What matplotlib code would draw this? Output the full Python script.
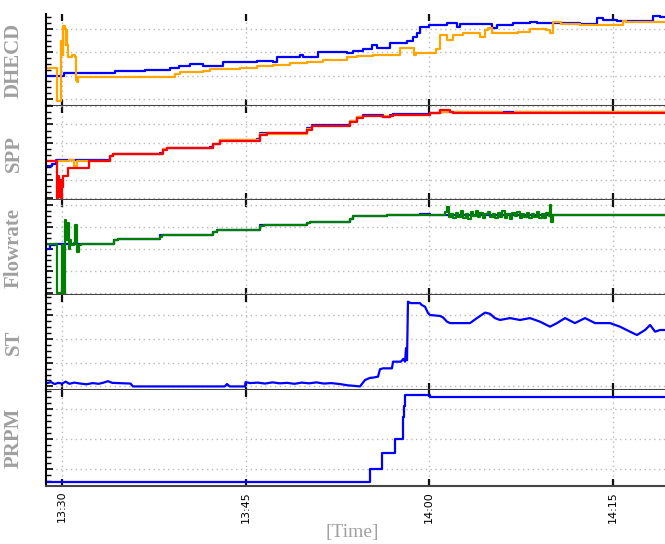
import matplotlib
matplotlib.use('Agg')
import matplotlib.pyplot as plt
import matplotlib.dates as mdates
from matplotlib.ticker import MultipleLocator
import pandas as pd

# time axis: minutes after 13:30
t_start, t_end = -1.31, 49.29

# DHECD
dhecd_blue_t = [-1.31, 0.16, 4.33, 6.78, 8.83, 9.6, 10.46, 11.53, 13.16, 15.94, 17.25, 17.57, 19.45, 19.70,
                20.93, 23.30, 23.79, 24.60, 25.34, 25.75, 26.81, 27.63, 28.2, 28.7, 29.02, 29.26, 30.0, 31.47,
                32.29, 32.53, 34.74, 35.15, 35.56, 36.86, 38.25, 38.83, 41.28, 42.34, 43.73, 44.22, 45.37,
                47.82, 48.31, 48.88, 49.29]
dhecd_blue_v = [1.99, 2.11, 2.20, 2.26, 2.33, 2.41, 2.50, 2.41, 2.59, 2.63, 2.59, 2.80, 2.89, 2.80,
                3.01, 2.97, 3.06, 3.14, 3.31, 3.19, 3.40, 3.40, 3.47, 3.66, 3.83, 4.09, 4.17, 4.26,
                4.09, 4.21, 4.21, 4.04, 4.17, 4.26, 4.30, 4.26, 4.26, 4.21, 4.47, 4.39, 4.34,
                4.34, 4.56, 4.51, 4.51]
dhecd_orange_t = [-1.31, -0.40, -0.38, -0.10, -0.05, 0.05, 0.10, 0.25, 0.30, 0.35, 0.41, 0.49, 0.82, 1.05,
                  1.14, 1.23, 1.31, 7.15, 9.24, 9.65, 11.53, 12.1, 14.55, 15.94, 17.25, 18.64, 20.0, 21.33,
                  23.30, 24.1, 25.42, 27.0, 27.63, 28.6, 28.78, 28.94, 30.58, 30.9, 31.47, 31.96, 32.78,
                  34.2, 34.58, 34.82, 35.15, 37.3, 38.25, 39.6, 39.9, 40.13, 40.8, 42.34, 45.86, 46.1, 49.29]
dhecd_orange_v = [2.33, 2.33, 0.91, 0.91, 3.5, 2.9, 4.13, 4.0, 3.3, 3.96, 3.31, 2.80, 2.89, 2.80,
                  1.81, 1.73, 1.94, 1.94, 2.07, 2.16, 2.20, 2.29, 2.33, 2.41, 2.46, 2.54, 2.59, 2.67,
                  2.80, 2.84, 2.89, 2.89, 3.19, 3.19, 2.89, 2.97, 3.14, 3.74, 3.53, 3.74, 3.83,
                  3.66, 3.96, 4.04, 3.83, 3.87, 4.00, 3.96, 3.83, 4.30, 4.21, 4.17, 4.34, 4.30, 4.30]

# SPP
spp_blue_t = [-1.31, -0.82, -0.49, 3.76, 3.92, 4.17, 8.01, 8.26, 8.58, 12.10, 12.34, 12.91, 15.94, 16.18,
              16.76, 19.70, 20.03, 20.44, 23.30, 23.54, 24.11, 24.60, 25.75, 26.24, 26.81, 27.06, 30.08,
              31.0, 49.29]
spp_blue_v = [1.75, 1.86, 2.08, 2.08, 2.30, 2.41, 2.47, 2.68, 2.74, 2.79, 2.96, 3.18, 3.23, 3.51,
              3.56, 3.56, 3.78, 3.95, 3.95, 4.16, 4.38, 4.49, 4.49, 4.38, 4.49, 4.55, 4.60,
              4.66, 4.66]
spp_orange_t = [-1.31, 0.6, 1.0, 1.2, 3.76, 3.92, 4.17, 8.26, 8.58, 12.34, 12.91, 16.18, 20.03, 20.44,
                23.54, 24.11, 24.60, 27.06, 30.08, 31.0, 36.0, 37.0, 49.29]
spp_orange_v = [2.03, 2.08, 1.75, 2.03, 2.03, 2.30, 2.41, 2.68, 2.74, 2.96, 3.15, 3.48, 3.75, 3.92,
                4.16, 4.38, 4.47, 4.53, 4.60, 4.66, 4.62, 4.66, 4.66]
spp_red_t = [-1.31, -0.40, -0.38, -0.30, -0.25, -0.15, -0.10, 0.0, 0.05, 0.45, 2.21, 3.76, 3.92, 4.17,
             8.26, 8.58, 12.10, 12.34, 12.91, 16.18, 16.76, 20.03, 20.44, 23.54, 24.11, 24.60, 25.75,
             26.24, 26.81, 27.06, 30.08, 30.9, 31.72, 31.96, 32.29, 49.29]
spp_red_v = [2.03, 2.03, 0.0, 1.2, 0.05, 1.0, 0.0, 0.6, 1.21, 1.64, 2.03, 2.03, 2.30, 2.41,
             2.63, 2.71, 2.71, 2.92, 3.12, 3.45, 3.51, 3.72, 3.90, 4.12, 4.34, 4.47, 4.47,
             4.38, 4.47, 4.53, 4.60, 4.77, 4.66, 4.62, 4.64, 4.64]

# Flowrate
flow_blue_t = [-1.31, -0.98, -0.57, 3.92, 4.25, 4.58, 7.85, 8.01, 12.10, 12.34, 12.67, 15.94, 16.18,
               19.70, 20.03, 20.27, 23.30, 23.54, 23.79, 25.99, 26.57, 29.26, 30.08, 49.29]
flow_blue_v = [2.01, 2.17, 2.24, 2.24, 2.40, 2.47, 2.47, 2.63, 2.63, 2.78, 2.86, 2.86, 3.09,
               3.09, 3.19, 3.24, 3.24, 3.36, 3.50, 3.50, 3.55, 3.58, 3.55, 3.55]
flow_green_t = [-1.31, -0.45, -0.40, -0.05, 0.0, 0.05, 0.2, 0.25, 0.35, 0.45, 0.55, 0.65, 0.75, 0.95,
                1.1, 1.25, 1.4, 1.55, 3.92, 4.25, 4.58, 8.01, 8.2, 12.10, 12.34, 12.67, 16.18, 16.5,
                20.03, 20.27, 23.54, 23.79, 26.57,
                31.14, 31.3, 31.47, 31.6, 31.8, 32.0, 32.2, 32.4, 32.6, 32.8, 33.0, 33.2, 33.4, 33.6,
                33.8, 34.0, 34.2, 34.4, 34.6, 34.8, 35.0, 35.2, 35.4, 35.6, 35.8, 36.0, 36.2, 36.4,
                36.6, 36.8, 37.0, 37.2, 37.4, 37.6, 37.8, 38.0, 38.2, 38.4, 38.6, 38.8, 39.0, 39.2,
                39.4, 39.6, 39.8, 39.9, 40.0, 40.13, 49.29]
flow_green_v = [2.24, 2.24, 0.0, 0.0, 2.2, 0.0, 0.0, 3.32, 2.4, 3.2, 2.0, 2.4, 2.2, 2.3,
                3.09, 1.86, 2.2, 2.24, 2.24, 2.40, 2.47, 2.55, 2.63, 2.63, 2.78, 2.86, 3.05, 3.09,
                3.19, 3.24, 3.36, 3.50, 3.55,
                3.55, 3.70, 3.92, 3.45, 3.62, 3.40, 3.66, 3.48, 3.72, 3.44, 3.60, 3.38, 3.68, 3.50,
                3.75, 3.46, 3.64, 3.42, 3.58, 3.70, 3.45, 3.62, 3.40, 3.66, 3.48, 3.72, 3.44, 3.58,
                3.38, 3.64, 3.50, 3.70, 3.42, 3.60, 3.46, 3.66, 3.40, 3.58, 3.48, 3.68, 3.44, 3.62,
                3.40, 3.64, 3.50, 4.01, 3.23, 3.55, 3.55]

# ST
st_t = [-1.31, -0.9, -0.6, -0.3, 0.0, 0.3, 0.6, 1.0, 1.5, 2.0, 2.5, 3.0, 3.4, 3.76, 4.1, 4.6, 5.1, 5.6,
        5.8, 13.3, 13.49, 13.7, 14.96, 15.0, 15.4, 16.0, 16.6, 17.2, 17.8, 18.4, 19.0, 19.6, 20.2, 20.8,
        21.4, 22.0, 22.72, 23.3, 23.95, 24.36, 24.77, 25.18, 25.42, 25.83, 25.99, 26.24, 26.97, 27.06,
        27.7, 27.9, 28.04, 28.12, 28.20, 28.28, 28.5, 29.26, 29.4, 29.67, 29.92, 30.08, 30.9, 31.14,
        31.47, 31.72, 33.35, 33.92, 34.58, 34.98, 35.39, 35.80, 36.62, 37.44, 38.25, 39.07, 39.89,
        40.46, 41.12, 41.93, 42.75, 43.57, 44.79, 45.61, 46.43, 47.0, 47.66, 48.07, 48.48, 48.88, 49.29]
st_v = [0.13, 0.18, 0.10, 0.15, 0.12, 0.20, 0.11, 0.16, 0.12, 0.09, 0.14, 0.11, 0.16, 0.22, 0.15, 0.14,
        0.13, 0.12, 0.0, 0.0, 0.10, 0.0, 0.0, 0.18, 0.14, 0.16, 0.12, 0.17, 0.13, 0.15, 0.11, 0.16, 0.13,
        0.17, 0.12, 0.14, 0.10, 0.05, 0.02, 0.0, 0.27, 0.36, 0.37, 0.41, 0.72, 0.76, 0.76, 1.04,
        1.04, 1.16, 1.04, 1.61, 1.1, 3.56, 3.50, 3.50, 3.42, 3.35, 3.08, 3.0, 2.96, 2.90,
        2.72, 2.66, 2.66, 2.87, 3.10, 3.05, 2.87, 2.79, 2.87, 2.79, 2.87, 2.72, 2.51,
        2.66, 2.87, 2.66, 2.87, 2.66, 2.66, 2.51, 2.30, 2.16, 2.37, 2.58, 2.30, 2.37, 2.37]

# PRPM
prpm_t = [-1.31, 25.05, 25.18, 26.08, 26.15, 27.14, 27.2, 27.79, 27.85, 27.96, 28.04, 29.92, 30.08, 49.29]
prpm_v = [0.58, 0.58, 1.0, 1.0, 1.53, 1.53, 2.0, 2.0, 2.75, 3.11, 3.48, 3.48, 3.41, 3.41]

base = pd.Timestamp('2020-01-01 13:30')


def to_time(minutes):
    return base + pd.to_timedelta(minutes, unit='min')


panels = [
    ('DHECD', (0.7, 4.64), 0.25, [(dhecd_blue_t, dhecd_blue_v, 'blue', 'steps-post'),
                                  (dhecd_orange_t, dhecd_orange_v, 'orange', 'steps-post')]),
    ('SPP', (-0.1, 5.0), 1 / 3, [(spp_blue_t, spp_blue_v, 'blue', 'steps-post'),
                                 (spp_orange_t, spp_orange_v, 'orange', 'steps-post'),
                                 (spp_red_t, spp_red_v, 'red', 'steps-post')]),
    ('Flowrate', (-0.09, 4.24), 0.25, [(flow_blue_t, flow_blue_v, 'blue', 'steps-post'),
                                       (flow_green_t, flow_green_v, 'green', 'steps-post')]),
    ('ST', (-0.15, 3.84), 0.25, [(st_t, st_v, 'blue', 'default')]),
    ('PRPM', (0.44, 3.64), 0.2, [(prpm_t, prpm_v, 'blue', 'steps-post')]),
]

fig = plt.figure(figsize=(6.65, 5.44), dpi=100)
gs = fig.add_gridspec(5, 1, height_ratios=[92, 94, 95, 95, 96], hspace=0,
                      left=46 / 665, right=1.0, top=1 - 14 / 544, bottom=1 - 486 / 544)

axes = []
for i, (name, ylim, minor, series) in enumerate(panels):
    ax = fig.add_subplot(gs[i], sharex=axes[0] if axes else None)
    axes.append(ax)
    for t, v, c, ds in series:
        ax.plot(to_time(t), v, color=c, lw=1.6, drawstyle=ds)
    ax.set_ylim(*ylim)
    ax.yaxis.set_major_locator(MultipleLocator(1))
    ax.yaxis.set_minor_locator(MultipleLocator(minor))
    ax.tick_params(axis='y', which='both', direction='in', left=True, labelleft=False, color='black')
    ax.tick_params(axis='y', which='major', length=5, width=1.2)
    ax.tick_params(axis='y', which='minor', length=3.5, width=1)
    ax.tick_params(axis='x', which='major', direction='in', top=True, bottom=True, length=5,
                   width=1.6, color='#111111', labelbottom=(i == len(panels) - 1))
    ax.spines['top'].set_visible(False)
    ax.spines['right'].set_visible(False)
    ax.spines['left'].set_linewidth(1.5)
    ax.spines['left'].set_color('black')
    ax.spines['bottom'].set_linewidth(1.5)
    ax.spines['bottom'].set_color('#444444')
    ax.set_ylabel(name, family='Liberation Serif', fontweight='bold', fontsize=15, color='#a0a0a0')
    ax.yaxis.set_label_coords(-0.036, 0.5)

ax = axes[-1]
ax.set_xlim(to_time(t_start), to_time(t_end))
ax.xaxis.set_major_locator(mdates.MinuteLocator(byminute=[0, 15, 30, 45]))
ax.xaxis.set_major_formatter(mdates.DateFormatter('%H:%M'))
for lab in ax.get_xticklabels():
    lab.set_rotation(90)
    lab.set_fontsize(8)

for a in axes:
    a.grid(True, which='major', axis='both', color='#b8b8b8', linestyle=(0, (1, 2.5)), lw=1)

fig.text(352 / 665, 1 - 533 / 544, '[Time]', family='Liberation Serif', fontsize=14,
         color='#a0a0a0', ha='center', va='center')

fig.savefig('out.png', dpi=100)
